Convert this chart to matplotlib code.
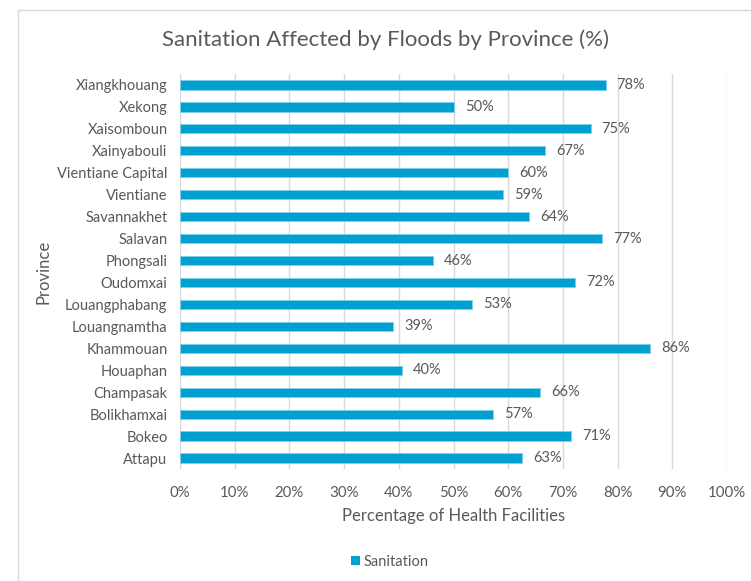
import matplotlib
matplotlib.use("Agg")
import matplotlib.pyplot as plt
from matplotlib.patches import Rectangle, Patch

provinces = ["Xiangkhouang", "Xekong", "Xaisomboun", "Xainyabouli", "Vientiane Capital",
             "Vientiane", "Savannakhet", "Salavan", "Phongsali", "Oudomxai",
             "Louangphabang", "Louangnamtha", "Khammouan", "Houaphan", "Champasak",
             "Bolikhamxai", "Bokeo", "Attapu"]
values = [77.8, 50.1, 75.1, 66.7, 60.0, 59.1, 63.8, 77.2, 46.2, 72.3,
          53.4, 39.0, 85.9, 40.5, 65.8, 57.2, 71.5, 62.6]
labels = ["78%", "50%", "75%", "67%", "60%", "59%", "64%", "77%", "46%", "72%",
          "53%", "39%", "86%", "40%", "66%", "57%", "71%", "63%"]
xticks = [0, 10, 20, 30, 40, 50, 60, 70, 80, 90, 100]

plt.rcParams['font.family'] = ['Lato', 'DejaVu Sans']
txt = '#595959'
bar_color = '#00a0d1'

W, H = 751, 581
fig = plt.figure(figsize=(W/100, H/100), dpi=100)
fig.patch.set_facecolor('white')
fig.add_artist(Rectangle((18/W, -0.01), 1.0, 1 - 10/H + 0.01, transform=fig.transFigure,
                         fill=False, edgecolor='#d9d9d9', linewidth=1))

ax = fig.add_axes([180/W, 1 - 469/H, (727-180)/W, (469-74)/H])
y = list(range(len(provinces)))
ax.barh(y, values, height=0.42, color=bar_color, edgecolor='#7fd0ea', linewidth=0.6, zorder=3)
for yi, v, lab in zip(y, values, labels):
    ax.text(v + 2.0, yi, lab, va='center', ha='left', fontsize=10.5, color=txt)
ax.set_ylim(len(provinces) - 0.5, -0.5)
ax.set_xlim(0, 100)
ax.set_yticks(y)
ax.set_yticklabels(provinces, fontsize=10.5, color=txt)
ax.set_xticks(xticks)
ax.set_xticklabels([f"{t}%" for t in xticks], fontsize=10.8, color=txt)
ax.tick_params(axis='both', length=0)
ax.tick_params(axis='x', pad=12)
ax.tick_params(axis='y', pad=9)
ax.grid(axis='x', color='#d9d9d9', linewidth=1, zorder=0)
for s in ax.spines.values():
    s.set_visible(False)
ax.set_xlabel("Percentage of Health Facilities", fontsize=12, color=txt, labelpad=6)
ax.set_ylabel("Province", fontsize=12, color=txt, labelpad=4)

fig.text(386/W, 1 - 40/H, "Sanitation Affected by Floods by Province (%)",
         ha='center', va='center', fontsize=16, color=txt)

leg = fig.legend(handles=[Patch(facecolor=bar_color, label="Sanitation")],
                 loc='center', bbox_to_anchor=(390/W, 1 - 562/H), frameon=False,
                 fontsize=10.5, handlelength=0.6, handleheight=0.6, handletextpad=0.3)
for t in leg.get_texts():
    t.set_color(txt)

fig.savefig("out.png", dpi=100)
